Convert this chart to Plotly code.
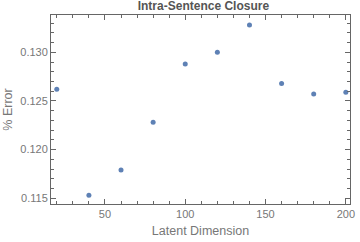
import plotly.graph_objects as go

latent_dim = [20, 40, 60, 80, 100, 120, 140, 160, 180, 200]
pct_error = [0.1262, 0.1153, 0.1179, 0.1228, 0.1288, 0.1300, 0.1328, 0.1268, 0.1257, 0.1259]

x_ticks = [50, 100, 150, 200]
y_ticks = [0.115, 0.120, 0.125, 0.130]

gray = "#666666"
txt = "#777777"

fig = go.Figure(go.Scatter(
    x=latent_dim, y=pct_error, mode="markers",
    marker=dict(color="#5E81B5", size=5),
))

fig.update_layout(
    width=360, height=242,
    margin=dict(l=51, r=5, t=15, b=38),
    paper_bgcolor="white", plot_bgcolor="white",
    showlegend=False,
    title=dict(text="<b>Intra-Sentence Closure</b>", x=0.565, xanchor="center", y=0.995, yanchor="top",
               font=dict(family="Liberation Sans", size=12, color="#555555")),
    font=dict(family="Liberation Sans", color=txt),
)
fig.update_xaxes(
    range=[16.4, 202.6], tickvals=x_ticks, ticks="inside", ticklen=5, tickcolor=gray,
    minor=dict(dtick=10, tick0=0, ticks="inside", ticklen=3, tickcolor=gray),
    showline=True, linecolor=gray, linewidth=1, mirror="ticks", showgrid=False, zeroline=False,
    tickfont=dict(size=11, color=txt),
    title=dict(text="Latent Dimension", font=dict(size=12.5, color=txt), standoff=7),
)
fig.update_yaxes(
    range=[0.11441, 0.13383], tickvals=y_ticks, tickformat=".3f", ticks="inside", ticklen=5, tickcolor=gray,
    minor=dict(dtick=0.001, tick0=0, ticks="inside", ticklen=3, tickcolor=gray),
    showline=True, linecolor=gray, linewidth=1, mirror="ticks", showgrid=False, zeroline=False,
    tickfont=dict(size=11, color=txt),
    title=dict(text="% Error", font=dict(size=12.5, color=txt), standoff=4),
)

fig.write_html("out.html", config={"displayModeBar": False},
               post_script="document.body.style.margin='0px';")
